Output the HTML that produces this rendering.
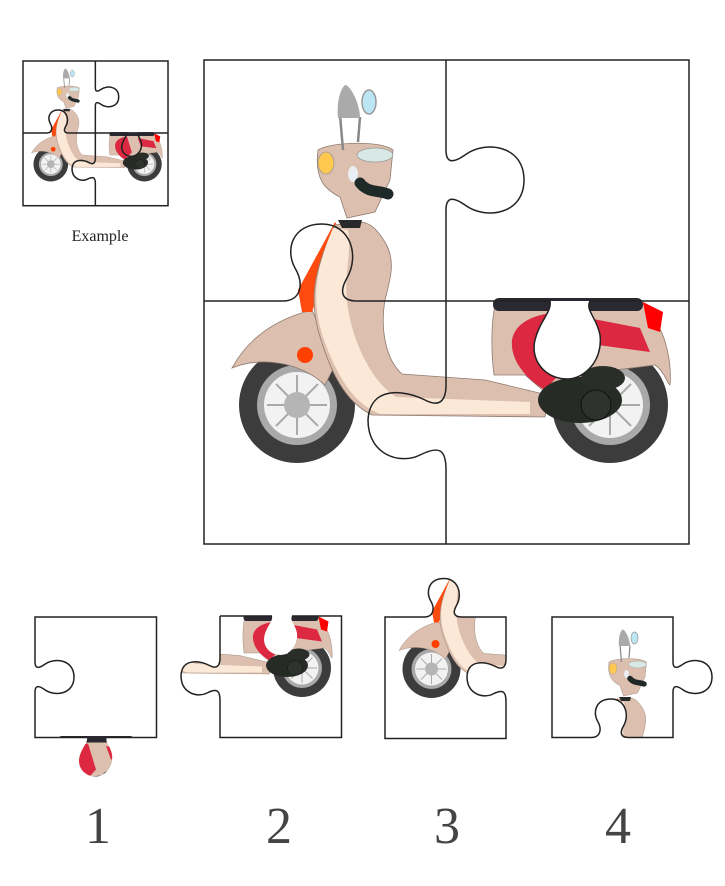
<!DOCTYPE html>
<html><head><meta charset="utf-8"><style>
html,body{margin:0;padding:0;background:#fff;}
svg{display:block;}
</style></head><body>
<svg width="725" height="886" viewBox="0 0 725 886" xmlns="http://www.w3.org/2000/svg">
<defs>
<g id="sc">
  <g>
    <circle cx="297" cy="405" r="58" fill="#3c3c3c"/>
    <circle cx="297" cy="405" r="40" fill="#a9a9a9"/>
    <circle cx="297" cy="405" r="33" fill="#f2f2f2"/>
    <g stroke="#aaa" stroke-width="2">
      <line x1="267" y1="405" x2="327" y2="405"/><line x1="297" y1="375" x2="297" y2="435"/>
      <line x1="276" y1="384" x2="318" y2="426"/><line x1="318" y1="384" x2="276" y2="426"/>
    </g>
    <circle cx="297" cy="405" r="13" fill="#b5b5b5"/>
    <circle cx="610" cy="405" r="58" fill="#3c3c3c"/>
    <circle cx="610" cy="405" r="40" fill="#a9a9a9"/>
    <circle cx="610" cy="405" r="33" fill="#f2f2f2"/>
    <g stroke="#aaa" stroke-width="2">
      <line x1="580" y1="405" x2="640" y2="405"/><line x1="610" y1="375" x2="610" y2="435"/>
      <line x1="589" y1="384" x2="631" y2="426"/><line x1="631" y1="384" x2="589" y2="426"/>
    </g>
  </g>
  <path d="M232,368 C250,335 280,318 312,310 L335,365 L325,385 C300,362 262,356 232,368 Z" fill="#dcbfae" stroke="#8f7b70" stroke-width="0.8"/>
  <circle cx="305" cy="355" r="8" fill="#ff4000"/>
  <path d="M335,222 L298,290 L302,312 L312,312 L340,230 Z" fill="#ff4a10"/>
  <path d="M495,305 C490,330 492,360 494,375 L525,375 L545,392 L600,372 L655,365 C665,372 668,385 670,385 C672,360 665,335 655,320 L642,302 L495,302 Z" fill="#dcbfae" stroke="#8f7b70" stroke-width="0.8"/>
  <path d="M512,340 C515,322 535,315 552,313 L568,365 L545,390 C528,380 510,362 512,340 Z" fill="#dc2840"/>
  <path d="M588,318 L640,328 L650,352 L598,345 Z" fill="#dc2840"/>
  <rect x="493" y="298" width="150" height="13" rx="6" fill="#2a2830"/>
  <path d="M643,302 L663,312 L660,332 L648,328 Z" fill="#ff0000"/>
  <path d="M335,225 C318,262 308,292 318,330 C330,372 345,402 372,415 L545,417 L548,395 L485,380 L402,374 C386,360 380,330 385,300 C390,280 396,262 386,244 C378,230 370,222 360,222 Z" fill="#dcbfae" stroke="#8f7b70" stroke-width="0.8"/>
  <path d="M333,228 C316,268 310,300 324,340 C338,378 354,404 380,414 L530,414 L530,402 L396,397 C372,382 352,342 347,302 C344,272 352,252 348,230 Z" fill="#fbe8d7"/>
  <ellipse cx="580" cy="400" rx="42" ry="23" fill="#272b26"/>
  <circle cx="596" cy="405" r="15" fill="#2e332d" stroke="#111" stroke-width="1"/>
  <ellipse cx="603" cy="378" rx="22" ry="12" fill="#2a2e29"/>
  <path d="M318,150 C330,142 380,140 393,150 L390,180 L375,212 L347,218 L340,197 C326,190 314,180 318,150 Z" fill="#dcbfae" stroke="#8f7b70" stroke-width="0.8"/>
  <ellipse cx="326" cy="163" rx="8" ry="11" fill="#ffc84f" stroke="#999" stroke-width="0.8"/>
  <ellipse cx="375" cy="155" rx="18" ry="7" fill="#d8e8e4" stroke="#999" stroke-width="0.8"/>
  <ellipse cx="353" cy="174" rx="5" ry="8" fill="#e8eef2"/>
  <path d="M360,183 C368,193 378,190 388,194" stroke="#1f2a28" stroke-width="11" fill="none" stroke-linecap="round"/>
  <path d="M338,220 L362,220 L360,228 L342,228 Z" fill="#2a2a2a"/>
  <path d="M343,150 L340,115 M358,142 L360,117" stroke="#888" stroke-width="2.5" fill="none"/>
  <path d="M338,118 C336,100 342,85 346,85 C352,88 360,105 360,118 Z" fill="#aaa"/>
  <ellipse cx="369" cy="102" rx="7" ry="12" fill="#bde6f5" stroke="#999" stroke-width="1.5"/>
</g>
<clipPath id="cTL"><path d="M204,60 L446,60 L446,150 C446,165 455,162 465,155 C485,140 524,145 524,180 C524,215 485,220 465,205 C455,198 446,195 446,210 L446,301 L357,301 C340,301 340,290 347,278 C360,255 350,224 322,224 C292,224 285,250 295,268 C305,285 300,301 283,301 L204,301 Z"/></clipPath>
<clipPath id="cTR"><path d="M446,60 L689,60 L689,301 L590,301 C585,310 597,318 600,335 C603,360 585,379 567,379 C545,379 530,360 535,340 C540,320 552,312 550,301 L446,301 L446,210 C446,195 455,198 465,205 C485,220 524,215 524,180 C524,145 485,140 465,155 C455,162 446,165 446,150 Z"/></clipPath>
<clipPath id="cBR"><path d="M446,301 L550,301 C552,312 540,320 535,340 C530,360 545,379 567,379 C585,379 603,360 600,335 C597,318 585,310 590,301 L689,301 L689,544 L446,544 L446,470 C446,450 440,445 420,455 C400,465 368,455 368,420 C370,385 405,390 425,400 C440,408 446,400 446,385 Z"/></clipPath>
<clipPath id="cBL"><path d="M204,301 L283,301 C300,301 305,285 295,268 C285,250 292,224 322,224 C350,224 360,255 347,278 C340,290 340,301 357,301 L446,301 L446,385 C446,400 440,408 425,400 C405,390 370,385 368,420 C368,455 400,465 420,455 C440,445 446,450 446,470 L446,544 L204,544 Z"/></clipPath>
</defs>

<g transform="translate(23,61) scale(0.299) translate(-204,-60)">
  <use href="#sc"/>
  <g fill="none" stroke="#222" stroke-width="5">
    <rect x="204" y="60" width="485" height="484"/>
    <path d="M446,60 L446,150 C446,165 455,162 465,155 C485,140 524,145 524,180 C524,215 485,220 465,205 C455,198 446,195 446,210 L446,385 C446,400 440,408 425,400 C405,390 370,385 368,420 C368,455 400,465 420,455 C440,445 446,450 446,470 L446,544"/>
    <path d="M204,301 L283,301 C300,301 305,285 295,268 C285,250 292,224 322,224 C350,224 360,255 347,278 C340,290 340,301 357,301 L550,301 C552,312 540,320 535,340 C530,360 545,379 567,379 C585,379 603,360 600,335 C597,318 585,310 590,301 L689,301"/>
  </g>
</g>
<text x="100" y="241" font-family="Liberation Serif, serif" font-size="16" text-anchor="middle" fill="#222">Example</text>

<use href="#sc"/>
<path d="M550,301 C552,312 540,320 535,340 C530,360 545,379 567,379 C585,379 603,360 600,335 C597,318 585,310 590,301 Z" fill="#fff"/>
<g fill="none" stroke="#222" stroke-width="1.5">
  <rect x="204" y="60" width="485" height="484"/>
  <path d="M446,60 L446,150 C446,165 455,162 465,155 C485,140 524,145 524,180 C524,215 485,220 465,205 C455,198 446,195 446,210 L446,385 C446,400 440,408 425,400 C405,390 370,385 368,420 C368,455 400,465 420,455 C440,445 446,450 446,470 L446,544"/>
  <path d="M204,301 L283,301 C300,301 305,285 295,268 C285,250 292,224 322,224 C350,224 360,255 347,278 C340,290 340,301 357,301 L550,301 C552,312 540,320 535,340 C530,360 545,379 567,379 C585,379 603,360 600,335 C597,318 585,310 590,301 L689,301"/>
</g>

<g transform="translate(35,617) scale(0.5) translate(-446,-60)">
  <g clip-path="url(#cTR)"><rect x="400" y="50" width="300" height="350" fill="#fff"/><use href="#sc"/></g>
  <path d="M550,301 L446,301 L446,210 C446,195 455,198 465,205 C485,220 524,215 524,180 C524,145 485,140 465,155 C455,162 446,165 446,150 L446,60 L689,60 L689,301 L590,301" fill="none" stroke="#222" stroke-width="3"/>
</g>
<g transform="translate(220,616) scale(0.5) translate(-446,-301)">
  <g clip-path="url(#cBR)"><rect x="360" y="290" width="340" height="260" fill="#fff"/><use href="#sc"/></g>
  <path d="M446,301 L550,301 M590,301 L689,301 L689,544 L446,544 L446,470 C446,450 440,445 420,455 C400,465 368,455 368,420 C370,385 405,390 425,400 C440,408 446,400 446,385 L446,301" fill="none" stroke="#222" stroke-width="3"/>
</g>
<g transform="translate(385,617) scale(0.5) translate(-204,-301)">
  <g clip-path="url(#cBL)"><rect x="200" y="220" width="250" height="330" fill="#fff"/><use href="#sc"/></g>
  <path d="M204,301 L283,301 C300,301 305,285 295,268 C285,250 292,224 322,224 C350,224 360,255 347,278 C340,290 340,301 357,301 L446,301 L446,385 C446,400 440,408 425,400 C405,390 370,385 368,420 C368,455 400,465 420,455 C440,445 446,450 446,470 L446,544 L204,544 Z" fill="none" stroke="#222" stroke-width="3"/>
</g>
<g transform="translate(552,617) scale(0.5) translate(-204,-60)">
  <g clip-path="url(#cTL)"><rect x="200" y="55" width="330" height="250" fill="#fff"/><use href="#sc"/></g>
  <path d="M204,60 L446,60 L446,150 C446,165 455,162 465,155 C485,140 524,145 524,180 C524,215 485,220 465,205 C455,198 446,195 446,210 L446,301 L357,301 C340,301 340,290 347,278 C360,255 350,224 322,224 C292,224 285,250 295,268 C305,285 300,301 283,301 L204,301 Z" fill="none" stroke="#222" stroke-width="3"/>
</g>

<g font-family="Liberation Serif, serif" font-size="52" fill="#444" text-anchor="middle">
  <text x="98" y="843">1</text>
  <text x="279" y="843">2</text>
  <text x="447" y="843">3</text>
  <text x="618" y="843">4</text>
</g>
</svg>
</body></html>
